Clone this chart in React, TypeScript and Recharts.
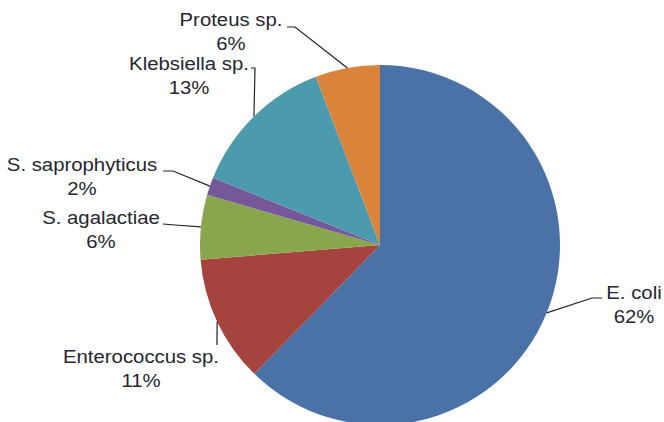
import React from 'react';
import { PieChart, Pie, Cell } from 'recharts';

const names = [
  'E. coli',
  'Enterococcus sp.',
  'S. agalactiae',
  'S. saprophyticus',
  'Klebsiella sp.',
  'Proteus sp.',
];
// labels show them rounded like Excel does
const shares = [62.3, 11.4, 5.8, 1.6, 13.1, 5.8];
const colors = ['#4a72a6', '#a5443f', '#8aa64d', '#76579a', '#4b9aae', '#da843b'];

const data = names.map((name, i) => ({ name, value: shares[i] }));

// where Excel parked each label: text centre, first-line y, and the leader bend
const labelLayout = [
  { x: 634, y: 293, bend: [[602, 298], [592, 298]] },
  { x: 141, y: 357, bend: [[217, 345]] },
  { x: 101, y: 218, bend: [[163, 224], [175, 225]] },
  { x: 82, y: 165, bend: [[163, 171], [173, 171]] },
  { x: 189, y: 64, bend: [[251, 68], [255, 68]] },
  { x: 231, y: 20, bend: [[287, 27], [295, 27]] },
];

const RAD = Math.PI / 180;

const renderLabel = (props: any) => {
  const { cx, cy, midAngle, outerRadius, index, name, percent } = props;
  const layout = labelLayout[index];
  const px = cx + outerRadius * Math.cos(midAngle * RAD);
  const py = cy - outerRadius * Math.sin(midAngle * RAD);
  const pts = [...layout.bend, [px, py]].map((p) => p.join(',')).join(' ');
  // the source text is a little wider than it is tall, stretch it sideways
  const stretch = `translate(${layout.x},0) scale(1.1,1) translate(${-layout.x},0)`;
  return (
    <g>
      <polyline points={pts} fill="none" stroke="#222" strokeWidth={1.2} />
      <text
        x={layout.x}
        textAnchor="middle"
        fontFamily="'Liberation Sans', Arial, sans-serif"
        fontSize={18.5}
        fill="#262630"
        transform={stretch}
      >
        <tspan x={layout.x} y={layout.y} dy="0.35em">{name}</tspan>
        <tspan x={layout.x} y={layout.y + 24} dy="0.35em">{`${Math.round(percent * 100)}%`}</tspan>
      </text>
    </g>
  );
};

export default function App() {
  return (
    <div style={{ position: 'absolute', left: 0, top: 0, width: 664, height: 422, background: '#fff' }}>
      <PieChart width={664} height={422} margin={{ top: 0, right: 0, bottom: 0, left: 0 }} style={{ overflow: 'visible' }}>
        <Pie
          data={data}
          dataKey="value"
          nameKey="name"
          cx={380}
          cy={245}
          outerRadius={180}
          startAngle={90}
          endAngle={-270}
          stroke="none"
          label={renderLabel}
          labelLine={false}
          isAnimationActive={false}
        >
          {data.map((d, i) => (
            <Cell key={d.name} fill={colors[i]} />
          ))}
        </Pie>
      </PieChart>
    </div>
  );
}
